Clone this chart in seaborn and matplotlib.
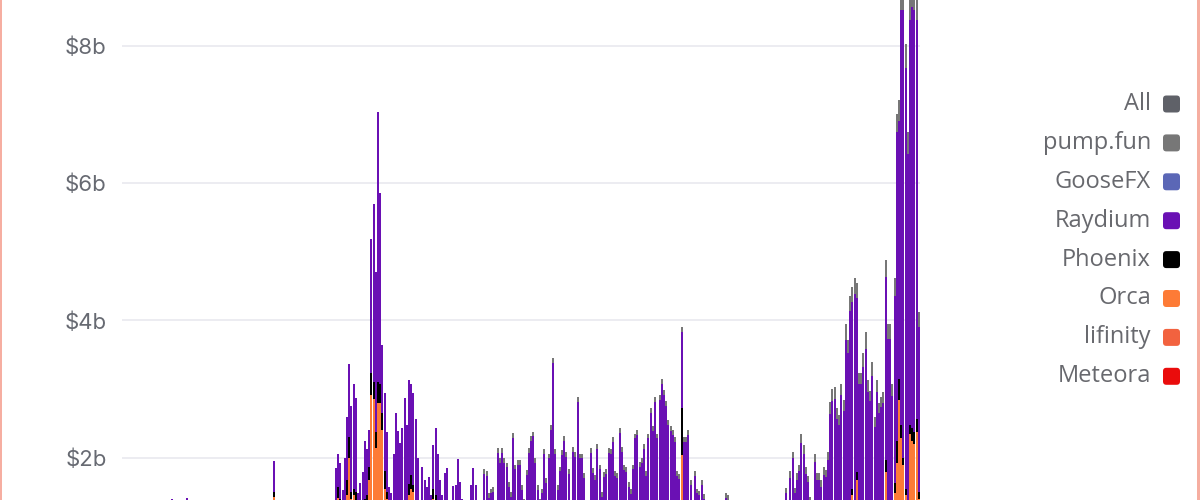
import numpy as np
import pandas as pd
import matplotlib
matplotlib.use("Agg")
import matplotlib.pyplot as plt
from matplotlib.patches import FancyBboxPatch, Rectangle
import seaborn as sns

# Daily Solana DEX volume in $ billions, one value per bar.
# Only the part above ~$1.4b is visible, lower values are rough estimates.
all_volume = [
    0.90, 0.95, 1.00, 0.90, 0.85, 0.90, 1.00, 1.05, 0.95, 0.90, 0.90, 1.00, 1.10, 1.00, 0.95, 1.00, 1.05, 1.10, 1.00, 1.05,
    1.10, 1.20, 1.40, 1.25, 1.10, 1.05, 1.10, 1.20, 1.25, 1.42, 1.20, 1.10, 1.00, 1.00, 0.95, 1.00, 1.05, 1.00, 0.95, 0.90,
    0.90, 0.95, 1.00, 1.00, 0.95, 0.90, 0.95, 1.00, 1.05, 1.00, 1.00, 1.10, 1.05, 1.00, 1.00, 1.05, 1.10, 1.15, 1.10, 1.05,
    1.00, 1.05, 1.10, 1.15, 1.20, 1.10, 1.15, 1.25, 1.95, 1.30, 1.20, 1.15, 1.10, 1.10, 1.20, 1.25, 1.20, 1.15, 1.10, 1.20,
    1.25, 1.30, 1.20, 1.15, 1.20, 1.25, 1.30, 1.25, 1.20, 1.30, 1.35, 1.30, 1.25, 1.30, 1.35, 1.30, 1.85, 2.05, 1.92, 1.53,
    1.99, 2.59, 3.36, 2.75, 3.07, 2.87, 1.48, 1.63, 1.79, 2.24, 2.12, 2.40, 5.18, 5.69, 4.70, 7.03, 5.85, 3.64, 2.94, 2.37,
    1.57, 1.48, 2.06, 2.65, 2.39, 2.21, 2.43, 2.87, 2.47, 3.13, 3.07, 2.94, 2.56, 1.99, 1.30, 1.86, 1.67, 1.57, 1.72, 1.45,
    2.19, 2.43, 2.06, 1.67, 1.45, 1.78, 1.85, 1.20, 1.25, 1.59, 1.60, 1.98, 1.64, 1.40, 1.20, 1.25, 1.38, 1.60, 1.85, 1.60,
    1.37, 1.20, 1.25, 1.83, 1.81, 1.48, 1.55, 1.57, 1.30, 2.14, 2.00, 2.14, 2.00, 1.93, 1.64, 1.50, 2.36, 1.90, 1.96, 1.96,
    1.60, 1.40, 1.82, 2.14, 2.32, 2.38, 2.00, 1.60, 1.40, 1.55, 2.12, 1.70, 2.06, 2.48, 3.45, 2.12, 1.60, 1.87, 2.11, 2.32,
    2.08, 1.83, 1.30, 2.16, 2.08, 2.88, 2.06, 2.06, 1.78, 1.30, 1.35, 2.14, 1.85, 1.75, 2.20, 1.90, 1.50, 1.79, 1.83, 2.14,
    2.12, 2.30, 1.80, 1.78, 2.43, 2.15, 1.89, 1.86, 1.64, 1.54, 1.90, 2.35, 2.40, 1.94, 2.00, 2.20, 1.80, 2.35, 2.72, 2.46,
    2.88, 2.35, 2.91, 3.14, 2.98, 2.83, 2.55, 2.46, 2.40, 2.30, 1.80, 1.76, 3.90, 2.30, 2.30, 2.40, 1.67, 1.25, 1.80, 1.55,
    1.52, 1.67, 1.47, 1.30, 1.25, 1.20, 1.20, 1.25, 1.30, 1.30, 1.25, 1.30, 1.48, 1.46, 1.30, 1.25, 1.20, 1.15, 1.20, 1.20,
    1.15, 1.10, 1.15, 1.20, 1.20, 1.25, 1.20, 1.25, 1.30, 1.25, 1.30, 1.30, 1.25, 1.30, 1.35, 1.30, 1.30, 1.35, 1.30, 1.56,
    1.30, 1.81, 2.09, 1.56, 1.78, 1.90, 2.34, 2.18, 1.86, 1.74, 1.43, 1.30, 2.06, 1.77, 1.78, 1.67, 1.87, 1.82, 2.08, 2.81,
    3.00, 3.03, 2.72, 2.62, 3.08, 2.84, 3.94, 3.72, 4.36, 4.49, 4.62, 4.54, 3.23, 3.23, 3.52, 3.83, 3.13, 2.97, 3.39, 2.59,
    3.13, 2.80, 2.89, 2.95, 4.88, 3.95, 3.95, 3.08, 4.61, 7.01, 7.21, 8.90, 8.90, 8.03, 6.74, 8.90, 8.95, 8.90, 8.90, 4.12,
]

# Orca (with the small Meteora / lifinity share under it)
orca = [
    0.30, 0.30, 0.30, 0.30, 0.30, 0.30, 0.30, 0.30, 0.30, 0.30, 0.30, 0.30, 0.30, 0.30, 0.30, 0.30, 0.30, 0.30, 0.30, 0.30,
    0.30, 0.30, 0.30, 0.30, 0.30, 0.30, 0.30, 0.30, 0.30, 0.30, 0.30, 0.30, 0.30, 0.30, 0.30, 0.30, 0.30, 0.30, 0.30, 0.30,
    0.30, 0.30, 0.30, 0.30, 0.30, 0.30, 0.30, 0.30, 0.30, 0.30, 0.30, 0.30, 0.30, 0.30, 0.30, 0.30, 0.30, 0.30, 0.30, 0.30,
    0.30, 0.30, 0.30, 0.30, 0.30, 0.30, 0.30, 0.30, 1.43, 0.30, 0.30, 0.30, 0.30, 0.30, 0.30, 0.30, 0.30, 0.30, 0.30, 0.30,
    0.30, 0.30, 0.30, 0.30, 0.30, 0.30, 0.30, 0.30, 0.30, 0.30, 0.30, 0.30, 0.30, 0.30, 0.30, 0.30, 1.20, 1.42, 1.30, 0.90,
    0.90, 1.45, 1.99, 1.40, 1.45, 1.38, 0.90, 0.90, 0.90, 1.30, 1.35, 1.67, 2.91, 2.85, 2.14, 2.80, 2.80, 2.40, 1.55, 1.40,
    0.90, 0.90, 0.90, 0.90, 0.90, 0.90, 0.90, 0.90, 0.90, 1.45, 1.55, 1.50, 0.90, 0.90, 0.90, 0.90, 0.90, 0.90, 0.90, 0.90,
    1.40, 1.30, 0.90, 0.80, 0.80, 0.70, 0.60, 0.40, 0.30, 0.30, 0.30, 0.30, 0.30, 0.30, 0.30, 0.30, 0.30, 0.30, 0.30, 0.30,
    0.30, 0.30, 0.30, 0.30, 0.30, 0.30, 0.30, 0.30, 0.30, 0.30, 0.30, 0.30, 0.30, 0.30, 0.30, 0.30, 0.30, 0.30, 0.30, 0.30,
    0.30, 0.30, 0.30, 0.30, 0.30, 0.30, 0.30, 0.30, 0.30, 0.30, 0.30, 0.30, 0.30, 0.30, 0.30, 0.30, 0.30, 0.30, 0.30, 0.30,
    0.30, 0.30, 0.30, 0.30, 0.30, 0.30, 0.30, 0.30, 0.30, 0.30, 0.30, 0.30, 0.30, 0.30, 0.30, 0.30, 0.30, 0.30, 0.30, 0.30,
    0.30, 0.30, 0.30, 0.30, 0.30, 0.30, 0.30, 0.30, 0.30, 0.30, 0.30, 0.30, 0.30, 0.30, 0.30, 0.30, 0.30, 0.30, 0.30, 0.30,
    0.30, 0.30, 0.30, 0.30, 0.30, 0.30, 0.30, 0.30, 0.30, 0.30, 0.30, 0.30, 2.04, 0.30, 0.30, 0.30, 0.30, 0.30, 0.30, 0.30,
    0.30, 0.30, 0.30, 0.30, 0.30, 0.30, 0.30, 0.30, 0.30, 0.30, 0.30, 0.30, 0.30, 0.30, 0.30, 0.30, 0.30, 0.30, 0.30, 0.30,
    0.30, 0.30, 0.30, 0.30, 0.30, 0.30, 0.30, 0.30, 0.30, 0.30, 0.30, 0.30, 0.30, 0.30, 0.30, 0.30, 0.30, 0.30, 0.30, 0.35,
    0.35, 0.35, 0.35, 0.35, 0.35, 0.35, 0.35, 0.35, 0.35, 0.35, 0.35, 0.35, 0.35, 0.35, 0.35, 0.35, 0.35, 0.35, 0.35, 0.35,
    0.40, 0.40, 0.40, 0.40, 0.40, 0.40, 0.40, 0.40, 0.40, 1.45, 0.40, 1.67, 0.40, 0.40, 0.40, 0.40, 0.40, 0.40, 0.40, 0.40,
    0.50, 0.50, 0.50, 0.60, 1.79, 0.90, 0.90, 0.90, 1.48, 1.92, 2.84, 2.28, 1.90, 1.45, 1.30, 2.34, 2.24, 2.20, 2.38, 1.40,
]

phoenix = [
    0.05, 0.05, 0.05, 0.05, 0.05, 0.05, 0.05, 0.05, 0.05, 0.05, 0.05, 0.05, 0.05, 0.05, 0.05, 0.05, 0.05, 0.05, 0.05, 0.05,
    0.05, 0.05, 0.05, 0.05, 0.05, 0.05, 0.05, 0.05, 0.05, 0.05, 0.05, 0.05, 0.05, 0.05, 0.05, 0.05, 0.05, 0.05, 0.05, 0.05,
    0.05, 0.05, 0.05, 0.05, 0.05, 0.05, 0.05, 0.05, 0.05, 0.05, 0.05, 0.05, 0.05, 0.05, 0.05, 0.05, 0.05, 0.05, 0.05, 0.05,
    0.05, 0.05, 0.05, 0.05, 0.05, 0.05, 0.05, 0.05, 0.07, 0.05, 0.05, 0.05, 0.05, 0.05, 0.05, 0.05, 0.05, 0.05, 0.05, 0.05,
    0.05, 0.05, 0.05, 0.05, 0.05, 0.05, 0.05, 0.05, 0.05, 0.05, 0.05, 0.05, 0.05, 0.05, 0.05, 0.05, 0.10, 0.15, 0.10, 0.10,
    0.10, 0.22, 0.31, 0.10, 0.10, 0.12, 0.10, 0.10, 0.10, 0.10, 0.10, 0.19, 0.33, 0.25, 0.23, 0.30, 0.28, 0.25, 0.25, 0.10,
    0.10, 0.10, 0.10, 0.10, 0.10, 0.10, 0.10, 0.10, 0.10, 0.17, 0.20, 0.10, 0.10, 0.10, 0.10, 0.10, 0.10, 0.10, 0.10, 0.10,
    0.15, 0.15, 0.10, 0.10, 0.08, 0.08, 0.06, 0.05, 0.05, 0.05, 0.05, 0.05, 0.05, 0.05, 0.05, 0.05, 0.05, 0.05, 0.05, 0.05,
    0.05, 0.05, 0.05, 0.05, 0.05, 0.05, 0.05, 0.05, 0.05, 0.05, 0.05, 0.05, 0.05, 0.05, 0.05, 0.05, 0.05, 0.05, 0.05, 0.05,
    0.05, 0.05, 0.05, 0.05, 0.05, 0.05, 0.05, 0.05, 0.05, 0.05, 0.05, 0.05, 0.05, 0.05, 0.05, 0.05, 0.05, 0.05, 0.05, 0.05,
    0.05, 0.05, 0.05, 0.05, 0.05, 0.05, 0.05, 0.05, 0.05, 0.05, 0.05, 0.05, 0.05, 0.05, 0.05, 0.05, 0.05, 0.05, 0.05, 0.05,
    0.05, 0.05, 0.05, 0.05, 0.05, 0.05, 0.05, 0.05, 0.05, 0.05, 0.05, 0.05, 0.05, 0.05, 0.05, 0.05, 0.05, 0.05, 0.05, 0.05,
    0.05, 0.05, 0.05, 0.05, 0.05, 0.05, 0.05, 0.05, 0.05, 0.05, 0.05, 0.05, 0.69, 0.05, 0.05, 0.05, 0.05, 0.05, 0.05, 0.05,
    0.05, 0.05, 0.05, 0.05, 0.05, 0.05, 0.05, 0.05, 0.05, 0.05, 0.05, 0.05, 0.05, 0.05, 0.05, 0.05, 0.05, 0.05, 0.05, 0.05,
    0.05, 0.05, 0.05, 0.05, 0.05, 0.05, 0.05, 0.05, 0.05, 0.05, 0.05, 0.05, 0.05, 0.05, 0.05, 0.05, 0.05, 0.05, 0.05, 0.05,
    0.05, 0.05, 0.05, 0.05, 0.05, 0.05, 0.05, 0.05, 0.05, 0.05, 0.05, 0.05, 0.05, 0.05, 0.05, 0.05, 0.05, 0.05, 0.05, 0.05,
    0.05, 0.05, 0.05, 0.05, 0.05, 0.05, 0.05, 0.05, 0.05, 0.10, 0.05, 0.12, 0.05, 0.05, 0.05, 0.05, 0.05, 0.05, 0.05, 0.05,
    0.05, 0.05, 0.05, 0.05, 0.17, 0.08, 0.08, 0.08, 0.15, 0.33, 0.31, 0.20, 0.10, 0.10, 0.07, 0.14, 0.19, 0.17, 0.19, 0.10,
]

pump_fun = [
    0.00, 0.00, 0.00, 0.00, 0.00, 0.00, 0.00, 0.00, 0.00, 0.00, 0.00, 0.00, 0.00, 0.00, 0.00, 0.00, 0.00, 0.00, 0.00, 0.00,
    0.00, 0.00, 0.00, 0.00, 0.00, 0.00, 0.00, 0.00, 0.00, 0.00, 0.00, 0.00, 0.00, 0.00, 0.00, 0.00, 0.00, 0.00, 0.00, 0.00,
    0.00, 0.00, 0.00, 0.00, 0.00, 0.00, 0.00, 0.00, 0.00, 0.00, 0.00, 0.00, 0.00, 0.00, 0.00, 0.00, 0.00, 0.00, 0.00, 0.00,
    0.00, 0.00, 0.00, 0.00, 0.00, 0.00, 0.00, 0.00, 0.00, 0.00, 0.00, 0.00, 0.00, 0.00, 0.00, 0.00, 0.00, 0.00, 0.00, 0.00,
    0.00, 0.00, 0.00, 0.00, 0.00, 0.00, 0.00, 0.00, 0.00, 0.00, 0.00, 0.00, 0.00, 0.00, 0.00, 0.00, 0.00, 0.00, 0.00, 0.00,
    0.00, 0.00, 0.00, 0.00, 0.00, 0.00, 0.00, 0.00, 0.00, 0.00, 0.00, 0.00, 0.00, 0.00, 0.00, 0.00, 0.00, 0.00, 0.00, 0.00,
    0.00, 0.00, 0.00, 0.00, 0.00, 0.00, 0.00, 0.00, 0.00, 0.00, 0.00, 0.00, 0.00, 0.00, 0.00, 0.00, 0.00, 0.00, 0.00, 0.00,
    0.00, 0.00, 0.00, 0.00, 0.00, 0.00, 0.00, 0.00, 0.00, 0.00, 0.00, 0.00, 0.00, 0.00, 0.00, 0.00, 0.00, 0.00, 0.00, 0.00,
    0.00, 0.00, 0.00, 0.07, 0.07, 0.07, 0.07, 0.07, 0.07, 0.07, 0.07, 0.07, 0.07, 0.07, 0.07, 0.07, 0.07, 0.07, 0.07, 0.07,
    0.07, 0.07, 0.07, 0.07, 0.07, 0.07, 0.07, 0.07, 0.07, 0.07, 0.07, 0.07, 0.07, 0.07, 0.07, 0.07, 0.07, 0.07, 0.07, 0.07,
    0.07, 0.07, 0.07, 0.07, 0.07, 0.07, 0.07, 0.07, 0.07, 0.07, 0.07, 0.07, 0.07, 0.07, 0.07, 0.07, 0.07, 0.07, 0.07, 0.07,
    0.07, 0.07, 0.07, 0.07, 0.07, 0.07, 0.07, 0.07, 0.07, 0.07, 0.07, 0.07, 0.07, 0.07, 0.07, 0.07, 0.07, 0.07, 0.07, 0.07,
    0.07, 0.07, 0.07, 0.07, 0.07, 0.07, 0.07, 0.07, 0.07, 0.07, 0.07, 0.07, 0.07, 0.07, 0.07, 0.07, 0.07, 0.07, 0.07, 0.07,
    0.07, 0.07, 0.07, 0.05, 0.05, 0.05, 0.05, 0.05, 0.05, 0.05, 0.05, 0.05, 0.07, 0.07, 0.05, 0.05, 0.05, 0.05, 0.05, 0.05,
    0.05, 0.05, 0.05, 0.05, 0.05, 0.05, 0.05, 0.05, 0.05, 0.05, 0.05, 0.05, 0.05, 0.05, 0.05, 0.05, 0.05, 0.05, 0.05, 0.08,
    0.05, 0.10, 0.10, 0.08, 0.10, 0.10, 0.12, 0.12, 0.10, 0.10, 0.08, 0.06, 0.12, 0.10, 0.10, 0.10, 0.12, 0.10, 0.12, 0.17,
    0.17, 0.18, 0.16, 0.15, 0.17, 0.16, 0.22, 0.20, 0.22, 0.22, 0.24, 0.22, 0.15, 0.15, 0.20, 0.25, 0.18, 0.15, 0.20, 0.15,
    0.18, 0.15, 0.15, 0.15, 0.25, 0.22, 0.22, 0.18, 0.25, 0.27, 0.30, 0.38, 0.38, 0.36, 0.31, 0.53, 0.38, 0.38, 0.53, 0.22,
]

legend_names = ["All", "pump.fun", "GooseFX", "Raydium", "Phoenix", "Orca", "lifinity", "Meteora"]
legend_colors = ["#5f6168", "#777777", "#5b67b6", "#6a10b4", "#000000", "#fd7b36", "#f2623f", "#ea0c0c"]
y_ticks = [2, 4, 6, 8]

# Raydium is what is left of the total once the other segments are taken out
total = np.array(all_volume)
raydium = total - np.array(orca) - np.array(phoenix) - np.array(pump_fun)

n = len(all_volume)
stack_order = ["pump.fun", "Raydium", "Phoenix", "Orca"]  # top to bottom
long_df = pd.DataFrame({
    "day": np.tile(np.arange(n), 4),
    "dex": np.repeat(stack_order, n),
    "volume": np.concatenate([pump_fun, raydium, phoenix, orca]),
})
palette = dict(zip(legend_names, legend_colors))

sns.set_theme(style="white")
plt.rcParams["font.family"] = ["Inter", "DejaVu Sans"]

fig = plt.figure(figsize=(12, 5), dpi=100)
ax = fig.add_axes([122 / 1200, 0, 798 / 1200, 1])

sns.histplot(data=long_df, x="day", weights="volume", hue="dex",
             hue_order=stack_order, palette=palette, multiple="stack",
             discrete=True, shrink=0.9, linewidth=0, alpha=1,
             legend=False, ax=ax)

ax.set_xlim(-0.5, n - 0.5)
ax.set_ylim(1.384, 8.666)
ax.set_yticks(y_ticks)
ax.set_yticklabels([f"${t}b" for t in y_ticks])
ax.set_xticks([])
ax.set_xlabel("")
ax.set_ylabel("")
ax.yaxis.grid(True, color="#e7e7ee", linewidth=1.1)
ax.set_axisbelow(True)
ax.tick_params(axis="y", length=0, pad=11, labelsize=16, labelcolor="#676a72")
for spine in ax.spines.values():
    spine.set_visible(False)

# legend on the right, text right-aligned before a rounded swatch
for k, (name, color) in enumerate(zip(legend_names, legend_colors)):
    y = 1 - (104 + 38.9 * k) / 500
    fig.text(1151 / 1200, y, name, ha="right", va="center", fontsize=17,
             color="#68696e", family=["Open Sans", "DejaVu Sans"])
    fig.patches.append(FancyBboxPatch(
        (1163 / 1200, y - 8.5 / 500), 17 / 1200, 17 / 500,
        boxstyle="round,pad=0,rounding_size=0.0028", mutation_aspect=2.4,
        transform=fig.transFigure, facecolor=color, edgecolor="none"))

# thin salmon frame edges
fig.patches.append(Rectangle((0, 0), 2 / 1200, 1, transform=fig.transFigure,
                             facecolor="#f6aea1", edgecolor="none"))
fig.patches.append(Rectangle((1196.5 / 1200, 0), 3.5 / 1200, 1, transform=fig.transFigure,
                             facecolor="#f6aea1", edgecolor="none"))

fig.savefig("out.png", dpi=100)
